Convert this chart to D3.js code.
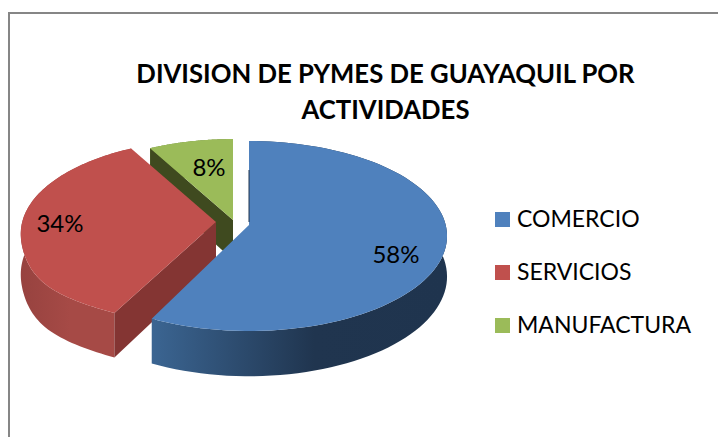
<!DOCTYPE html>
<html><head><meta charset="utf-8">
<script src="https://cdn.jsdelivr.net/npm/d3@7"></script>
<style>html,body{margin:0;padding:0;background:#fff}svg{display:block}text{font-family:Lato,"Open Sans",sans-serif;fill:#000}</style>
</head><body>
<svg id="c" width="718" height="437"></svg>
<script>
const categories = ["COMERCIO","SERVICIOS","MANUFACTURA"];
const values = [58,34,8];
const topColors = ["#4f81bd","#c0504d","#9bbb59"];
const titleLines = ["DIVISION DE PYMES DE GUAYAQUIL POR","ACTIVIDADES"];

const svg = d3.select("#c");
const W=718,H=437;
svg.append("rect").attr("x",9).attr("y",13).attr("width",W).attr("height",H).attr("fill","#fff").attr("stroke","#868686").attr("stroke-width",2);

const p=0.116,a=93.7,b=196.7,depth=40;
const deg=Math.PI/180;
// placement of each exploded slice, with small trims of its edges to follow the picture's 3D projection
const layout=[
  {x:249,y:225,r:1,trim0:0,trim1:2.5,bulge:0},
  {x:216,y:222,r:0.985,trim0:-0.8,trim1:0,bulge:0.03},
  {x:233,y:220,r:0.96,trim0:0,trim1:0,bulge:0}
];
const pie=d3.pie().sort(null).value(d=>d)(values);
const pt=(s,t,r=1,low=false)=>{
  const e=s.bulge*Math.exp(-Math.pow((t/deg-232)/12,2)/2);
  const rr=r*(1+e);
  const u=rr*Math.sin(t),v=-rr*Math.cos(t);
  const k=1/(1-p*v);
  return [s.x+b*u*k, s.y+a*v*k+(low?depth*k:0)];
};
const arcPts=(s,t0,t1,low)=>d3.range(0,91).map(i=>pt(s,t0+(t1-t0)*i/90,s.r,low));
const line=d3.line();

const defs=svg.append("defs");
const grad=(id,stops,x1,x2)=>{
  const g=defs.append("linearGradient").attr("id",id).attr("gradientUnits","userSpaceOnUse")
    .attr("x1",x1).attr("x2",x2).attr("y1",0).attr("y2",0);
  stops.forEach(([o,c])=>g.append("stop").attr("offset",o).attr("stop-color",c));
};
grad("wall0",[[0,"#3b6592"],[0.55,"#20354f"],[1,"#1f344e"]],152,447);
grad("wall1",[[0,"#96423f"],[0.55,"#a64a46"],[1,"#a64a46"]],18,113);
grad("wall2",[[0,"#6f8a3c"],[1,"#6f8a3c"]],148,233);
const cutColors=["#1f344e","#843533","#3f4a1f"];

const order=[2,1,0];
const g=svg.append("g");
order.forEach(i=>{
  const s=layout[i],d=pie[i];
  const t0=d.startAngle+s.trim0*deg,t1=d.endAngle-s.trim1*deg;
  const c0=pt({...s,bulge:0},t0,0),c0l=pt({...s,bulge:0},t0,0,true);
  g.append("path").attr("fill",`url(#wall${i})`)
    .attr("d",line(arcPts(s,t0,t1,false).concat(arcPts(s,t0,t1,true).reverse()))+"Z");
  if(Math.sin(t0)<-0.01) g.append("path").attr("fill",cutColors[i])
      .attr("d",line([c0,pt(s,t0,s.r),pt(s,t0,s.r,true),c0l])+"Z");
  if(Math.sin(t1)>0.01) g.append("path").attr("fill",cutColors[i])
      .attr("d",line([c0,pt(s,t1,s.r),pt(s,t1,s.r,true),c0l])+"Z");
  g.append("path").attr("fill",topColors[i])
    .attr("d",line([c0].concat(arcPts(s,t0,t1,false)))+"Z");
});
g.append("line").attr("x1",249).attr("x2",249).attr("y1",170).attr("y2",222).attr("stroke","#1f344e").attr("stroke-width",1);

// percentage labels
const labelPos=[[396,263],[60,232],[209,176]];
labelPos.forEach(([x,y],i)=>svg.append("text").attr("x",x).attr("y",y).attr("text-anchor","middle")
  .attr("font-size",24).text(values[i]+"%"));

// title
titleLines.forEach((t,i)=>svg.append("text").attr("x",385.5).attr("y",[83,119][i]).attr("text-anchor","middle")
  .attr("font-size",25.7).attr("font-weight",700).text(t));

// legend
const ly=d3.scalePoint().domain(categories).range([212,318]);
categories.forEach((c,i)=>{
  svg.append("rect").attr("x",495).attr("y",ly(c)).attr("width",15).attr("height",15).attr("fill",topColors[i]);
  svg.append("text").attr("x",517).attr("y",ly(c)+15).attr("font-size",23).text(c);
});
</script>
</body></html>
